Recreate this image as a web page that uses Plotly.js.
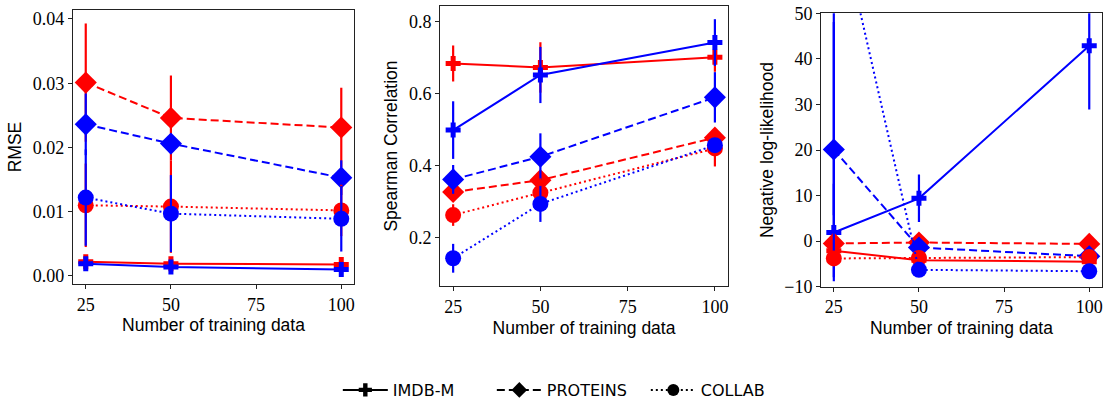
<!DOCTYPE html>
<html>
<head>
<meta charset="utf-8">
<script src="https://cdn.plot.ly/plotly-3.0.1.min.js"></script>
<style>html,body{margin:0;padding:0;background:#fff;}#chart{width:1104px;height:401px;}</style>
</head>
<body>
<div id="chart"></div>
<script>
// ---- data ----
const trainSizes = [25, 50, 100];
const datasets = ['IMDB-M', 'PROTEINS', 'COLLAB'];
const xTicks = [25, 50, 75, 100];

// RMSE
const rmseRedImdb = [0.0022, 0.0019, 0.0018];
const rmseRedImdbErr = [0.0005, 0.0004, 0.0005];
const rmseBlueImdb = [0.0019, 0.0014, 0.0010];
const rmseBlueImdbErr = [0.0005, 0.0005, 0.0006];
const rmseRedProteins = [0.0301, 0.0246, 0.0231];
const rmseRedProteinsErr = [0.0092, 0.0066, 0.0062];
const rmseBlueProteins = [0.0236, 0.0206, 0.0153];
const rmseBlueProteinsErr = [0.0048, 0.0015, 0.0027];
const rmseRedCollab = [0.0110, 0.0108, 0.0102];
const rmseRedCollabErr = [0.0065, 0.0072, 0.0040];
const rmseBlueCollab = [0.0122, 0.0097, 0.0089];
const rmseBlueCollabErr = [0.0075, 0.0060, 0.0051];

// Spearman correlation
const spRedImdb = [0.684, 0.673, 0.701];
const spRedImdbErr = [0.05, 0.07, 0.04];
const spBlueImdb = [0.499, 0.652, 0.742];
const spBlueImdbErr = [0.08, 0.078, 0.065];
const spRedProteins = [0.327, 0.360, 0.478];
const spRedProteinsErr = [0.02, 0.025, 0.025];
const spBlueProteins = [0.362, 0.425, 0.590];
const spBlueProteinsErr = [0.04, 0.065, 0.07];
const spRedCollab = [0.263, 0.325, 0.448];
const spRedCollabErr = [0.03, 0.04, 0.05];
const spBlueCollab = [0.143, 0.294, 0.457];
const spBlueCollabErr = [0.04, 0.05, 0.02];

// Negative log-likelihood
const nllRedImdb = [-2.1, -4.2, -4.5];
const nllRedImdbErr = [0.8, 0.5, 0.5];
const nllBlueImdb = [1.9, 9.4, 42.9];
const nllBlueImdbErr = [10.7, 5.2, 14.0];
const nllRedProteins = [-0.5, -0.3, -0.6];
const nllRedProteinsErr = [0.5, 0.5, 0.5];
const nllBlueProteins = [20.1, -1.4, -3.3];
const nllBlueProteinsErr = [28, 0.8, 0.8];
const nllRedCollab = [-3.8, -3.7, -3.5];
const nllRedCollabErr = [0.6, 0.6, 0.6];
const nllBlueCollab = [75.7, -6.3, -6.6];
const nllBlueCollabErr = [70, 0.6, 0.6];

// ---- styles ----
const RED = '#ff0000', BLUE = '#0000ff';
const styleByDataset = {
  'IMDB-M':  {symbol: 'cross', size: 12.5, dash: 'solid'},
  'PROTEINS':{symbol: 'diamond', size: 17, dash: '8px,4px'},
  'COLLAB':  {symbol: 'circle', size: 16, dash: '2px,3px'}
};

function series(xa, ya, ds, color, y, err) {
  const s = styleByDataset[ds];
  return {
    type: 'scatter', mode: 'lines+markers', xaxis: xa, yaxis: ya,
    x: trainSizes, y: y, showlegend: false, hoverinfo: 'skip',
    line: {color: color, width: 2, dash: s.dash},
    marker: {color: color, symbol: s.symbol, size: s.size, line: {width: 0}},
    error_y: {type: 'data', array: err, visible: true, color: color, thickness: 2.2, width: 0}
  };
}

const traces = [
  series('x','y','IMDB-M',RED,rmseRedImdb,rmseRedImdbErr),
  series('x','y','IMDB-M',BLUE,rmseBlueImdb,rmseBlueImdbErr),
  series('x','y','PROTEINS',RED,rmseRedProteins,rmseRedProteinsErr),
  series('x','y','PROTEINS',BLUE,rmseBlueProteins,rmseBlueProteinsErr),
  series('x','y','COLLAB',RED,rmseRedCollab,rmseRedCollabErr),
  series('x','y','COLLAB',BLUE,rmseBlueCollab,rmseBlueCollabErr),

  series('x2','y2','IMDB-M',RED,spRedImdb,spRedImdbErr),
  series('x2','y2','IMDB-M',BLUE,spBlueImdb,spBlueImdbErr),
  series('x2','y2','PROTEINS',RED,spRedProteins,spRedProteinsErr),
  series('x2','y2','PROTEINS',BLUE,spBlueProteins,spBlueProteinsErr),
  series('x2','y2','COLLAB',RED,spRedCollab,spRedCollabErr),
  series('x2','y2','COLLAB',BLUE,spBlueCollab,spBlueCollabErr),

  series('x3','y3','IMDB-M',RED,nllRedImdb,nllRedImdbErr),
  series('x3','y3','IMDB-M',BLUE,nllBlueImdb,nllBlueImdbErr),
  series('x3','y3','PROTEINS',RED,nllRedProteins,nllRedProteinsErr),
  series('x3','y3','PROTEINS',BLUE,nllBlueProteins,nllBlueProteinsErr),
  series('x3','y3','COLLAB',RED,nllRedCollab,nllRedCollabErr),
  series('x3','y3','COLLAB',BLUE,nllBlueCollab,nllBlueCollabErr)
];

// legend entries (black)
const legendSizes = {'IMDB-M': 11, 'PROTEINS': 12, 'COLLAB': 12};
datasets.forEach(ds => {
  const s = styleByDataset[ds];
  traces.push({
    type: 'scatter', mode: 'lines+markers', x: [null], y: [null], name: ds,
    xaxis: 'x', yaxis: 'y', showlegend: true,
    line: {color: '#000', width: 2, dash: s.dash},
    marker: {color: '#000', symbol: s.symbol, size: legendSizes[ds]}
  });
});

const tickFont = {family: "'Liberation Serif', 'Times New Roman', serif", size: 18, color: '#000'};
const titleFont = {family: "'Liberation Sans', Arial, sans-serif", size: 17.5, color: '#000'};

function xAxis(domain, anchor, standoff) {
  return {
    domain: domain, anchor: anchor, range: [21.25, 103.75],
    tickvals: xTicks, ticktext: xTicks.map(String),
    ticks: 'outside', ticklen: 4, tickwidth: 1, tickcolor: '#222',
    showline: true, linecolor: '#222', linewidth: 1, mirror: true,
    showgrid: false, zeroline: false, tickfont: tickFont,
    title: {text: 'Number of training data', font: titleFont, standoff: standoff}
  };
}
function yAxis(domain, anchor, range, tickvals, fmt, title) {
  return {
    domain: domain, anchor: anchor, range: range,
    tickvals: tickvals, ticktext: tickvals.map(fmt),
    ticks: 'outside', ticklen: 4, tickwidth: 1, tickcolor: '#222',
    showline: true, linecolor: '#222', linewidth: 1, mirror: true,
    showgrid: false, zeroline: false, tickfont: tickFont,
    title: {text: title, font: titleFont, standoff: 6}
  };
}

const rmseTicks = [0, 0.01, 0.02, 0.03, 0.04];
const spTicks = [0.2, 0.4, 0.6, 0.8];
const nllTicks = [-10, 0, 10, 20, 30, 40, 50];

const layout = {
  width: 1104, height: 401,
  margin: {l: 0, r: 0, t: 0, b: 0, autoexpand: false},
  paper_bgcolor: '#fff', plot_bgcolor: '#fff',
  showlegend: true,
  xaxis: xAxis([0.0661, 0.3207], 'y', 1),
  yaxis: yAxis([0.2918, 0.9751], 'x', [-0.00125, 0.0414], rmseTicks, v => v.toFixed(2), 'RMSE'),
  xaxis2: xAxis([0.3986, 0.6594], 'y2', 6),
  yaxis2: yAxis([0.2868, 0.9850], 'x2', [0.066, 0.8436], spTicks, v => v.toFixed(1), 'Spearman Correlation'),
  xaxis3: xAxis([0.7437, 0.9982], 'y3', 5),
  yaxis3: yAxis([0.2850, 0.9668], 'x3', [-10, 50], nllTicks, v => (v < 0 ? '\u2212' + Math.abs(v) : String(v)), 'Negative log-likelihood'),
  legend: {
    orientation: 'h', x: 0.306, xanchor: 'left', y: 0.0274, yanchor: 'middle',
    font: {family: "'DejaVu Sans', sans-serif", size: 16, color: '#000'},
    bgcolor: 'rgba(0,0,0,0)', itemwidth: 45, tracegroupgap: 0,
    entrywidth: 94, entrywidthmode: 'pixels'
  }
};

Plotly.newPlot('chart', traces, layout, {staticPlot: true, displayModeBar: false});
</script>
</body>
</html>
